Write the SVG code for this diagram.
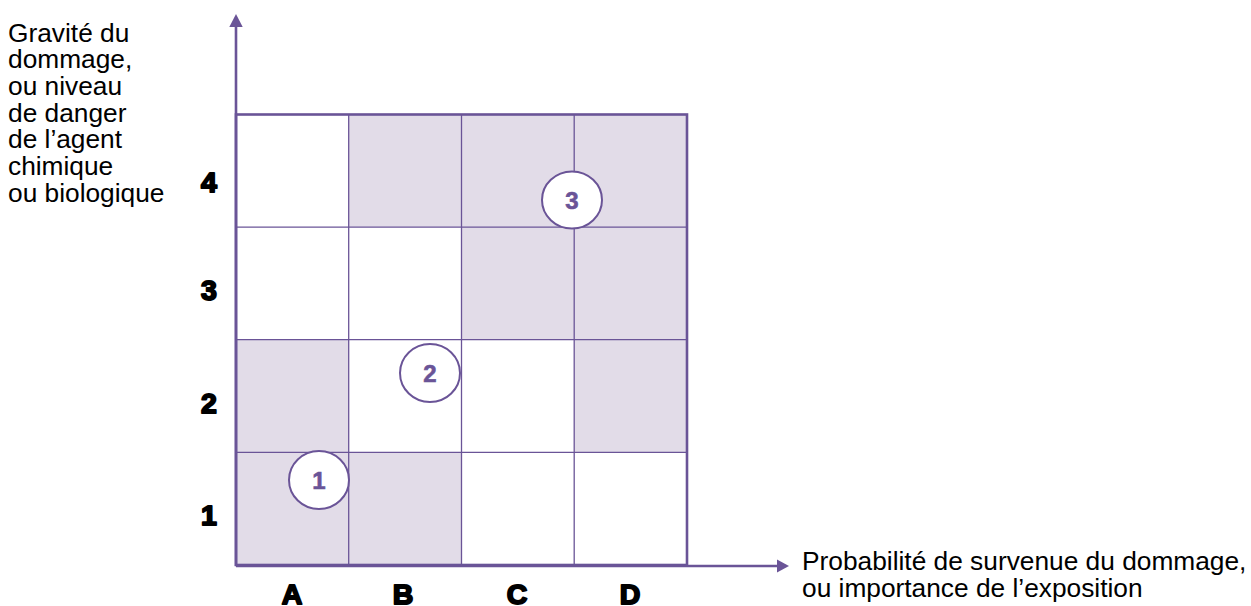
<svg xmlns="http://www.w3.org/2000/svg" width="1251" height="606" viewBox="0 0 1251 606">
<style>
.txt{font-family:"Liberation Sans",Arial,sans-serif;font-size:26.3px;fill:#000}
.ax{font-family:"Liberation Sans",Arial,sans-serif;font-size:28.5px;font-weight:bold;fill:#000;stroke:#000;stroke-width:1.9;stroke-linejoin:round;text-anchor:middle}
.sh{fill:#e2dce8}
.in{stroke:#6a5497;stroke-width:1.3;fill:none}
.out{stroke:#6a5497;stroke-width:2.6;fill:none}
.mk{fill:#6a5497}
.c{fill:#fff;stroke:#6a5497;stroke-width:2}
.cn{font-family:"Liberation Sans",Arial,sans-serif;font-size:24px;font-weight:bold;fill:#6a5497;stroke:#6a5497;stroke-width:0.6;text-anchor:middle}
</style>
<rect width="1251" height="606" fill="#fff"/>
<g id="cells">
<rect class="sh" x="348.7" y="114.5" width="112.8" height="112.6"/>
<rect class="sh" x="461.5" y="114.5" width="112.7" height="112.6"/>
<rect class="sh" x="574.2" y="114.5" width="112.8" height="112.6"/>
<rect class="sh" x="461.5" y="227.1" width="112.7" height="112.6"/>
<rect class="sh" x="574.2" y="227.1" width="112.8" height="112.6"/>
<rect class="sh" x="236" y="339.7" width="112.7" height="112.6"/>
<rect class="sh" x="574.2" y="339.7" width="112.8" height="112.6"/>
<rect class="sh" x="236" y="452.3" width="112.7" height="112.7"/>
<rect class="sh" x="348.7" y="452.3" width="112.8" height="112.7"/>
</g>
<g id="grid">
<line class="in" x1="348.7" y1="114.5" x2="348.7" y2="565"/>
<line class="in" x1="461.5" y1="114.5" x2="461.5" y2="565"/>
<line class="in" x1="574.2" y1="114.5" x2="574.2" y2="565"/>
<line class="in" x1="236" y1="227.1" x2="687" y2="227.1"/>
<line class="in" x1="236" y1="339.7" x2="687" y2="339.7"/>
<line class="in" x1="236" y1="452.3" x2="687" y2="452.3"/>
<rect class="out" x="236" y="114.5" width="451" height="450.5"/>
</g>
<g id="connectors">
<line class="out" x1="236" y1="566" x2="236" y2="25"/>
<polygon class="mk" points="236,14 229.3,27 242.7,27"/>
<line class="out" x1="236" y1="566" x2="779" y2="566"/>
<polygon class="mk" points="789,566 777,559.5 777,572.5"/>
</g>
<g id="y-title">
<text class="txt" x="8" y="41.5">Gravité du</text>
<text class="txt" x="8" y="68.2">dommage,</text>
<text class="txt" x="8" y="94.9">ou niveau</text>
<text class="txt" x="8" y="121.6">de danger</text>
<text class="txt" x="8" y="148.3">de l’agent</text>
<text class="txt" x="8" y="175">chimique</text>
<text class="txt" x="8" y="201.7">ou biologique</text>
</g>
<g id="x-title">
<text class="txt" x="802" y="570">Probabilité de survenue du dommage,</text>
<text class="txt" x="802" y="597">ou importance de l’exposition</text>
</g>
<g id="y-labels">
<text class="ax" x="209" y="192">4</text>
<text class="ax" x="209" y="300">3</text>
<text class="ax" x="209" y="413">2</text>
<text class="ax" x="209" y="525">1</text>
</g>
<g id="x-labels">
<text class="ax" x="292" y="604">A</text>
<text class="ax" x="403" y="604">B</text>
<text class="ax" x="517" y="604">C</text>
<text class="ax" x="630" y="604">D</text>
</g>
<g id="node1">
<ellipse class="c" cx="319" cy="480" rx="30" ry="29"/>
<text class="cn" x="319" y="489">1</text>
</g>
<g id="node2">
<ellipse class="c" cx="430" cy="373" rx="30" ry="29"/>
<text class="cn" x="430" y="382">2</text>
</g>
<g id="node3">
<ellipse class="c" cx="572" cy="200" rx="30" ry="28.5"/>
<text class="cn" x="572" y="209">3</text>
</g>
</svg>
